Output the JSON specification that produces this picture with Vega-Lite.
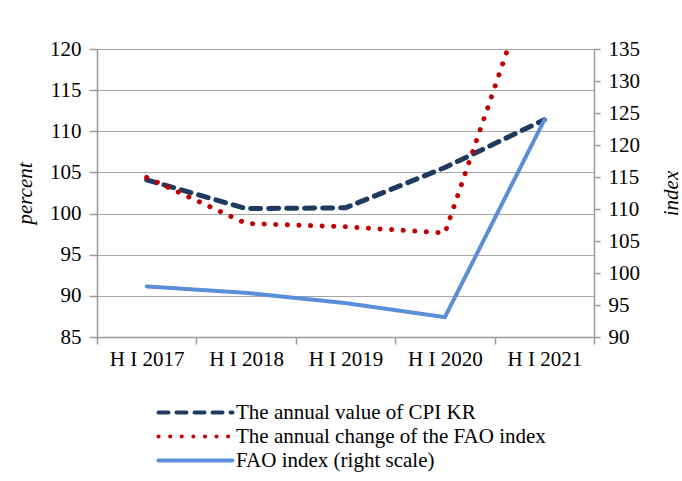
{
  "$schema": "https://vega.github.io/schema/vega-lite/v6.json",
  "width": 497,
  "height": 288,
  "autosize": "none",
  "padding": {"left": 97, "top": 49, "right": 88, "bottom": 144},
  "background": "white",
  "config": {
    "font": "Liberation Serif",
    "view": {"stroke": null},
    "axis": {
      "labelFont": "Liberation Serif",
      "labelFontSize": 21,
      "labelColor": "black",
      "domainColor": "#9A9A9A",
      "domainWidth": 1.5,
      "tickColor": "#9A9A9A",
      "tickWidth": 1.5,
      "gridColor": "#A6A6A6",
      "gridWidth": 1.2,
      "titleFont": "Liberation Serif",
      "titleFontSize": 21,
      "titleFontStyle": "italic",
      "titleFontWeight": "normal",
      "titleColor": "black"
    },
    "legend": {
      "labelFont": "Liberation Serif",
      "labelFontSize": 21,
      "labelColor": "black",
      "labelLimit": 600
    }
  },
  "data": {
    "values": [
      {"period": "H I 2017", "series": "The annual value of CPI KR", "value": 104.1},
      {"period": "H I 2018", "series": "The annual value of CPI KR", "value": 100.6},
      {"period": "H I 2019", "series": "The annual value of CPI KR", "value": 100.7},
      {"period": "H I 2020", "series": "The annual value of CPI KR", "value": 105.6},
      {"period": "H I 2021", "series": "The annual value of CPI KR", "value": 111.4},
      {"period": "H I 2017", "series": "The annual change of the FAO index", "value": 104.4},
      {"period": "H I 2018", "series": "The annual change of the FAO index", "value": 98.8},
      {"period": "H I 2019", "series": "The annual change of the FAO index", "value": 98.4},
      {"period": "H I 2020", "series": "The annual change of the FAO index", "value": 97.65},
      {"period": "H I 2021", "series": "The annual change of the FAO index", "value": 133.0},
      {"period": "H I 2017", "series": "FAO index (right scale)", "value": 97.9},
      {"period": "H I 2018", "series": "FAO index (right scale)", "value": 96.9},
      {"period": "H I 2019", "series": "FAO index (right scale)", "value": 95.3},
      {"period": "H I 2020", "series": "FAO index (right scale)", "value": 93.1},
      {"period": "H I 2021", "series": "FAO index (right scale)", "value": 123.9}
    ]
  },
  "encoding": {
    "x": {
      "field": "period",
      "type": "nominal",
      "sort": null,
      "scale": {"type": "band", "paddingInner": 0, "paddingOuter": 0},
      "axis": {
        "title": null,
        "labelAngle": 0,
        "tickBand": "extent",
        "tickSize": 7,
        "labelPadding": 4,
        "grid": false
      }
    },
    "color": {
      "field": "series",
      "type": "nominal",
      "scale": {
        "domain": ["The annual value of CPI KR", "The annual change of the FAO index", "FAO index (right scale)"],
        "range": ["#1F3A60", "#C00000", "#5B8FD9"]
      },
      "legend": {
        "title": null,
        "orient": "none",
        "legendX": 88,
        "legendY": 353,
        "direction": "vertical",
        "symbolType": "M-37,0H37",
        "symbolSize": 4,
        "symbolStrokeWidth": 4,
        "labelOffset": 30,
        "rowPadding": 2,
        "encode": {"symbols": {"update": {"strokeCap": {"value": "round"}}}}
      }
    },
    "strokeDash": {
      "field": "series",
      "type": "nominal",
      "scale": {
        "domain": ["The annual value of CPI KR", "The annual change of the FAO index", "FAO index (right scale)"],
        "range": [[10, 8], [0.1, 11.5], [1, 0]]
      },
      "legend": {
        "title": null,
        "orient": "none",
        "legendX": 88,
        "legendY": 353,
        "direction": "vertical",
        "symbolType": "M-37,0H37",
        "symbolSize": 4,
        "symbolStrokeWidth": 4,
        "labelOffset": 30,
        "rowPadding": 2,
        "encode": {"symbols": {"update": {"strokeCap": {"value": "round"}}}}
      }
    }
  },
  "layer": [
    {
      "transform": [{"filter": "datum.series !== 'FAO index (right scale)'"}],
      "mark": {"type": "line", "clip": true, "strokeWidth": 5, "strokeCap": "round"},
      "encoding": {
        "y": {
          "field": "value",
          "type": "quantitative",
          "scale": {"domain": [85, 120], "nice": false, "zero": false},
          "axis": {
            "title": "percent",
            "values": [85, 90, 95, 100, 105, 110, 115, 120],
            "tickSize": 8,
            "labelPadding": 8,
            "titlePadding": 14,
            "grid": true
          }
        }
      }
    },
    {
      "transform": [{"filter": "datum.series === 'FAO index (right scale)'"}],
      "mark": {"type": "line", "clip": true, "strokeWidth": 4, "strokeCap": "round"},
      "encoding": {
        "y": {
          "field": "value",
          "type": "quantitative",
          "scale": {"domain": [90, 135], "nice": false, "zero": false},
          "axis": {
            "orient": "right",
            "title": "index",
            "titleAngle": 270,
            "values": [90, 95, 100, 105, 110, 115, 120, 125, 130, 135],
            "tickSize": 6,
            "labelPadding": 8,
            "titlePadding": 42,
            "grid": false
          }
        }
      }
    }
  ],
  "resolve": {"scale": {"y": "independent"}}
}
